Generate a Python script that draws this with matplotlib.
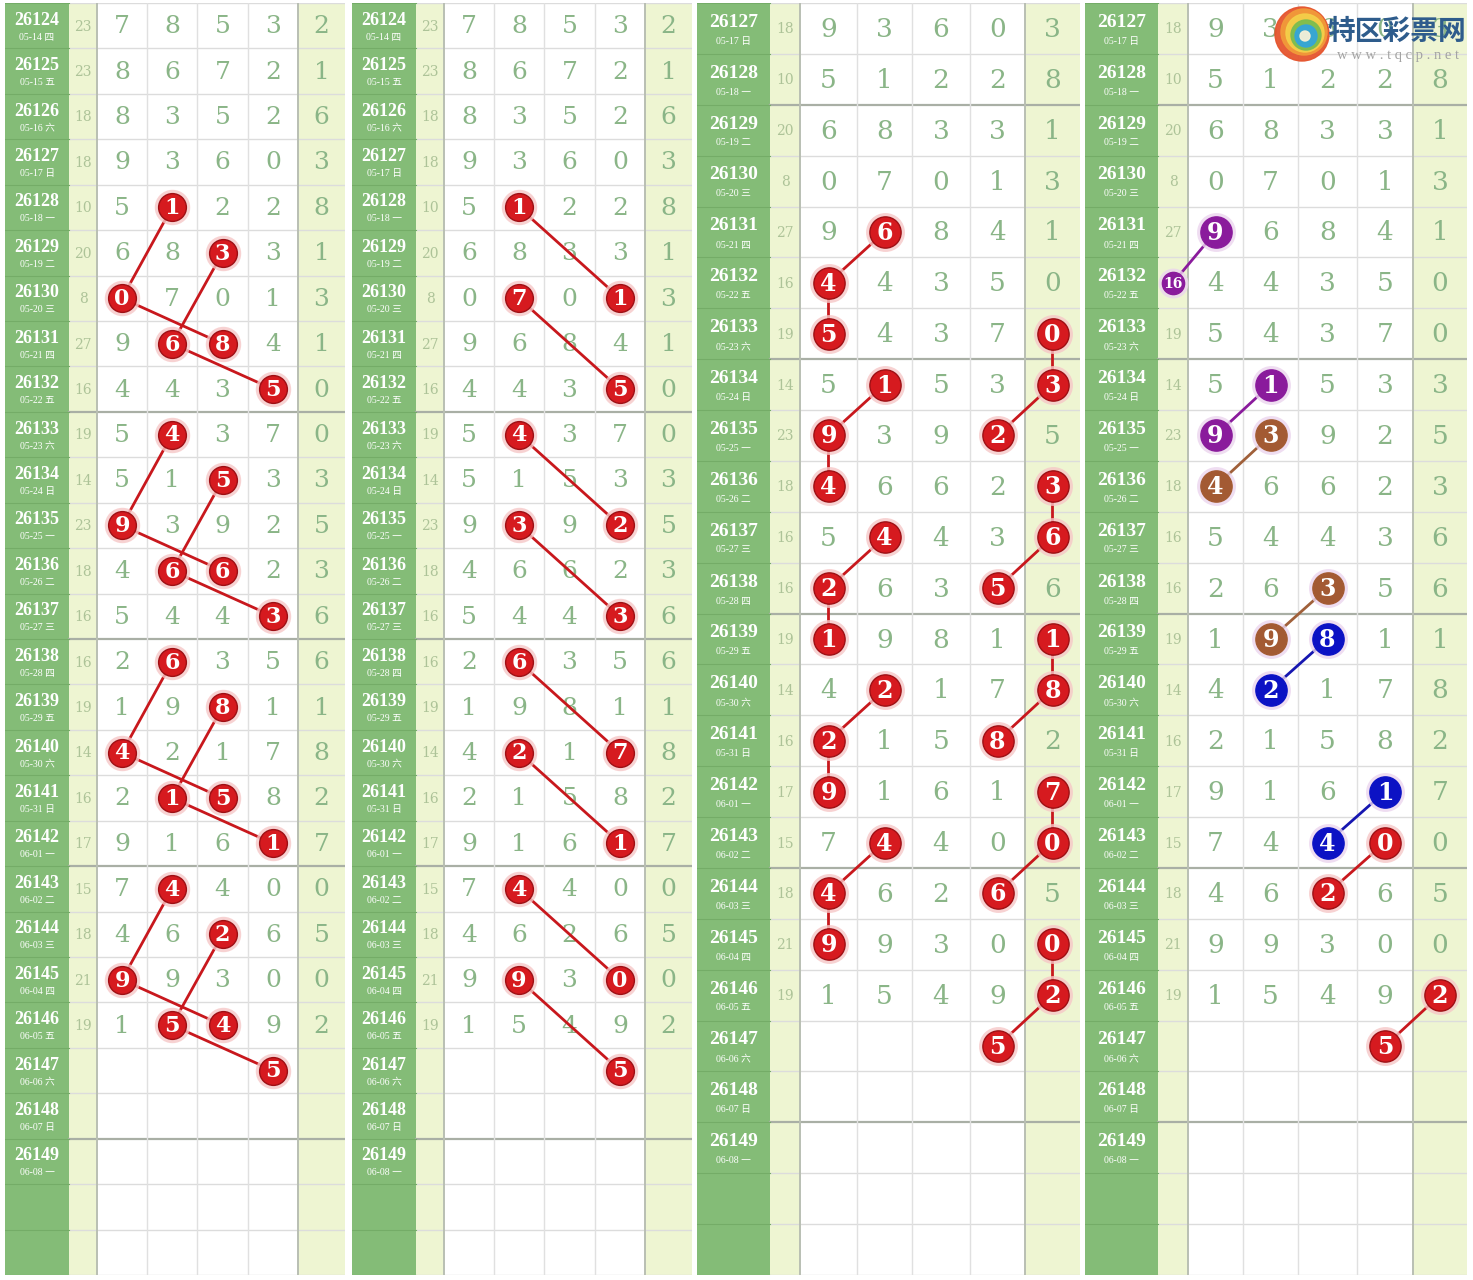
import matplotlib.pyplot as plt

# draw history, shared by all four panels
issues = ['26124', '26125', '26126', '26127', '26128', '26129', '26130', '26131', '26132',
          '26133', '26134', '26135', '26136', '26137', '26138', '26139', '26140', '26141',
          '26142', '26143', '26144', '26145', '26146', '26147', '26148', '26149']
dates = ['05-14 四', '05-15 五', '05-16 六', '05-17 日', '05-18 一', '05-19 二', '05-20 三',
         '05-21 四', '05-22 五', '05-23 六', '05-24 日', '05-25 一', '05-26 二', '05-27 三',
         '05-28 四', '05-29 五', '05-30 六', '05-31 日', '06-01 一', '06-02 二', '06-03 三',
         '06-04 四', '06-05 五', '06-06 六', '06-07 日', '06-08 一']
sums = [23, 23, 18, 18, 10, 20, 8, 27, 16, 19, 14, 23, 18, 16, 16, 19, 14, 16, 17, 15, 18, 21, 19]
draws = ['78532', '86721', '83526', '93603', '51228', '68331', '07013', '96841', '44350',
         '54370', '51533', '93925', '46623', '54436', '26356', '19811', '42178', '21582',
         '91617', '74400', '46265', '99300', '15492']

# highlighted chains: (issue, column, value); column 0 = sum, 1-4 = digits, 5 = last digit
chains_p1 = [
    [('26128', 2, 1), ('26130', 1, 0), ('26131', 3, 8)],
    [('26129', 3, 3), ('26131', 2, 6), ('26132', 4, 5)],
    [('26133', 2, 4), ('26135', 1, 9), ('26136', 3, 6)],
    [('26134', 3, 5), ('26136', 2, 6), ('26137', 4, 3)],
    [('26138', 2, 6), ('26140', 1, 4), ('26141', 3, 5)],
    [('26139', 3, 8), ('26141', 2, 1), ('26142', 4, 1)],
    [('26143', 2, 4), ('26145', 1, 9), ('26146', 3, 4)],
    [('26144', 3, 2), ('26146', 2, 5), ('26147', 4, 5)],
]
chains_p2 = [
    [('26128', 2, 1), ('26130', 4, 1)],
    [('26130', 2, 7), ('26132', 4, 5)],
    [('26133', 2, 4), ('26135', 4, 2)],
    [('26135', 2, 3), ('26137', 4, 3)],
    [('26138', 2, 6), ('26140', 4, 7)],
    [('26140', 2, 2), ('26142', 4, 1)],
    [('26143', 2, 4), ('26145', 4, 0)],
    [('26145', 2, 9), ('26147', 4, 5)],
]
chains_p3 = [
    [('26131', 2, 6), ('26132', 1, 4), ('26133', 1, 5)],
    [('26134', 2, 1), ('26135', 1, 9), ('26136', 1, 4)],
    [('26137', 2, 4), ('26138', 1, 2), ('26139', 1, 1)],
    [('26140', 2, 2), ('26141', 1, 2), ('26142', 1, 9)],
    [('26143', 2, 4), ('26144', 1, 4), ('26145', 1, 9)],
    [('26133', 5, 0), ('26134', 5, 3), ('26135', 4, 2)],
    [('26136', 5, 3), ('26137', 5, 6), ('26138', 4, 5)],
    [('26139', 5, 1), ('26140', 5, 8), ('26141', 4, 8)],
    [('26142', 5, 7), ('26143', 5, 0), ('26144', 4, 6)],
    [('26145', 5, 0), ('26146', 5, 2), ('26147', 4, 5)],
]
chains_p4 = [
    [('26131', 1, 9), ('26132', 0, 16)],
    [('26134', 2, 1), ('26135', 1, 9)],
    [('26135', 2, 3), ('26136', 1, 4)],
    [('26138', 3, 3), ('26139', 2, 9)],
    [('26139', 3, 8), ('26140', 2, 2)],
    [('26142', 4, 1), ('26143', 3, 4)],
    [('26143', 4, 0), ('26144', 3, 2)],
    [('26146', 5, 2), ('26147', 4, 5)],
]
colors_p4 = ['purple', 'purple', 'brown', 'brown', 'blue', 'blue', 'red', 'red']

PALETTE = {
    'red': ('#D61A1F', '#C8181D'),
    'purple': ('#8A1B9C', '#8A1B9C'),
    'brown': ('#A35A33', '#A0603A'),
    'blue': ('#0C12C4', '#1616B0'),
}

W, H = 1473, 1280
fig = plt.figure(figsize=(W / 100, H / 100), dpi=100)
fig.patch.set_facecolor('white')

GREEN = '#84BC77'
PALE = '#EEF5D2'
DIGIT = '#8AB587'
SUMC = '#ADC398'


def draw_panel(edges, first, extra_rows, chains, ccolors, thick, big):
    start = issues.index(first)
    rows = issues[start:]
    nrows = len(rows) + extra_rows
    ax = fig.add_axes([edges[0] / W, 1 - 1275 / H, (edges[-1] - edges[0]) / W, 1272 / H])
    ax.set_xlim(edges[0], edges[-1])
    ax.set_ylim(nrows, 0)
    ax.axis('off')

    fills = [GREEN, PALE, 'white', 'white', 'white', 'white', PALE]
    for c, fc in enumerate(fills):
        ax.axvspan(edges[c], edges[c + 1], color=fc, lw=0, zorder=0)

    for r in range(nrows + 1):
        heavy = r < len(rows) and rows[r] in thick
        ax.plot([edges[1], edges[-1]], [r, r], color='#A9AFA5' if heavy else '#DCDCDC',
                lw=1.6 if heavy else 1.0, zorder=1)
        ax.plot([edges[0], edges[1]], [r, r], color='#74AC67', lw=0.8, zorder=1)
    for c in range(2, len(edges) - 1):
        strong = c in (2, 6)
        ax.plot([edges[c], edges[c]], [0, nrows], color='#B9BFB3' if strong else '#E0E0E0',
                lw=1.4 if strong else 1.0, zorder=1)

    cx = [(edges[c] + edges[c + 1]) / 2 for c in range(len(edges) - 1)]
    fs_digit = 19 if big else 18
    marked = set()
    for ch in chains:
        for iss, col, val in ch:
            marked.add((iss, col))

    for r, iss in enumerate(rows):
        ax.text(cx[0], r + 0.38, iss, ha='center', va='center', color='white', fontsize=14 if big else 13,
                family='Liberation Serif', fontweight='bold', zorder=3)
        ax.text(cx[0], r + 0.75, dates[start + r], ha='center', va='center', color='white',
                fontsize=7, family=['Liberation Serif', 'Noto Sans CJK SC'], zorder=3)
        i = start + r
        if i >= len(draws):
            continue
        if (iss, 0) not in marked:
            ax.text(cx[1], r + 0.52, str(sums[i]), ha='center', va='center', color=SUMC,
                    fontsize=10, family='DejaVu Serif', zorder=3)
        for k, d in enumerate(draws[i]):
            if (iss, k + 1) in marked:
                continue
            t = ax.text(cx[k + 2], r + 0.52, d, ha='center', va='center', color=DIGIT,
                        fontsize=fs_digit, family='DejaVu Serif', zorder=3)
            t.set_path_effects([])

    ms = 22.5 if big else 20
    for ch, cname in zip(chains, ccolors):
        face, line = PALETTE[cname]
        xs = [cx[col + 1] for iss, col, val in ch]
        ys = [issues.index(iss) - start + 0.5 for iss, col, val in ch]
        ax.plot(xs, ys, color=line, lw=2, zorder=4, solid_capstyle='round')
        for x, y, (iss, col, val) in zip(xs, ys, ch):
            small = col == 0
            m = 16 if small else ms
            ax.plot(x, y, 'o', ms=m + 3, mfc='none', mec='#F6C7C7' if cname == 'red' else '#EBD5EE',
                    mew=2.5, alpha=0.8, zorder=5)
            ax.plot(x, y, 'o', ms=m, mfc=face, mec='#9E0F14' if cname == 'red' else face,
                    mew=1.0, zorder=6)
            ax.text(x, y + 0.02, str(val), ha='center', va='center', color='white',
                    fontsize=10 if small else (17 if big else 16), fontweight='bold',
                    family='DejaVu Serif', zorder=7)
    return ax


thick12 = ['26133', '26138', '26143', '26149']
thick34 = ['26129', '26134', '26139', '26144', '26149']

draw_panel([5, 69, 97, 147, 197, 248, 298, 345], '26124', 2, chains_p1, ['red'] * len(chains_p1), thick12, False)
draw_panel([352, 416, 444, 494, 544, 595, 645, 692], '26124', 2, chains_p2, ['red'] * len(chains_p2), thick12, False)
draw_panel([697, 770, 800, 857, 912, 970, 1025, 1080], '26127', 2, chains_p3, ['red'] * len(chains_p3), thick34, True)
draw_panel([1085, 1158, 1188, 1243, 1298, 1357, 1413, 1467], '26127', 2, chains_p4, colors_p4, thick34, True)

# watermark
wm = fig.add_axes([0, 0, 1, 1])
wm.set_xlim(0, W)
wm.set_ylim(H, 0)
wm.axis('off')
wm.patch.set_alpha(0)
rings = [(27, 0, 0, '#E5552E'), (23, 2, -2, '#F19A3A'), (19, 3, -1, '#F4CF49'),
         (15, 4, 1, '#7CBD4F'), (11, 4, 2, '#34A5DA'), (5, 3, 2, '#F5F1D8')]
for rad, dx, dy, col in rings:
    wm.add_patch(plt.Circle((1302 + dx, 34 + dy), rad, color=col, alpha=0.95, zorder=10))
wm.text(1397, 32, '特区彩票网', ha='center', va='center', fontsize=20, fontweight='bold',
        color='#2E5C8C', family='Noto Sans CJK SC', zorder=11)
wm.text(1398, 56, 'w w w . t q c p . n e t', ha='center', va='center', fontsize=10.5,
        color='#A3A3A3', family='Liberation Serif', zorder=11)

fig.savefig('out.png', dpi=100, facecolor='white')
